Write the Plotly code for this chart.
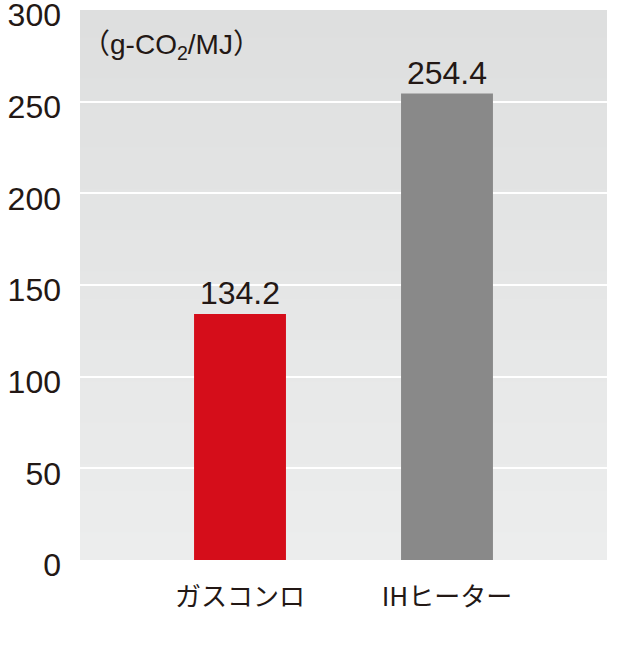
import plotly.graph_objects as go

categories = ["ガスコンロ", "IHヒーター"]
values = [134.2, 254.4]
value_labels = ["134.2", "254.4"]
bar_colors = ["#d50d1a", "#898989"]
y_ticks = [0, 50, 100, 150, 200, 250, 300]
unit_label = ('<span style="font-family:Noto Sans CJK JP">（</span>g-CO<sub>2</sub>/MJ'
              '<span style="font-family:Noto Sans CJK JP">）</span>')

x_pos = list(range(len(categories)))

fig = go.Figure()
fig.add_trace(go.Bar(
    x=x_pos, y=values, width=0.444,
    marker=dict(color=bar_colors, line=dict(width=0)),
    text=value_labels, textposition="outside", cliponaxis=False,
    textfont=dict(size=32, color="#231815", family="Liberation Sans, Arial, sans-serif"),
    hoverinfo="skip",
))

# vertical gradient background (overlapping rects, no seams)
n = 40
top = (222, 223, 223)
bot = (236, 237, 237)
shapes = []
for i in range(n):
    t = i / (n - 1)
    c = tuple(round(top[k] + (bot[k] - top[k]) * t) for k in range(3))
    shapes.append(dict(type="rect", xref="paper", yref="paper", x0=0, x1=1,
                       y0=0, y1=1 - i / n, layer="below",
                       fillcolor="rgb(%d,%d,%d)" % c, line=dict(width=0)))

fig.update_layout(
    width=635, height=646,
    margin=dict(l=80, r=28, t=10, b=86, autoexpand=False),
    paper_bgcolor="white", plot_bgcolor="rgba(0,0,0,0)",
    showlegend=False, shapes=shapes,
    font=dict(family="Liberation Sans, Arial, sans-serif", color="#231815"),
    xaxis=dict(range=[-0.773, 1.773], tickvals=x_pos, ticktext=categories,
               showgrid=False, zeroline=False, showline=False, ticks="",
               tickfont=dict(size=26, family="Noto Sans CJK JP", color="#231815"),
               ticklabelstandoff=19, automargin=False),
    yaxis=dict(range=[0, 300], tickvals=y_ticks, showgrid=True, gridcolor="white",
               gridwidth=2, zeroline=False, showline=False, ticks="",
               tickfont=dict(size=32, color="#231815"), ticklabelstandoff=18,
               ticklabeloverflow="allow", ticklabelshift=5, automargin=False),
    annotations=[dict(text=unit_label, xref="paper", yref="paper", x=0.0, y=0.94,
                      xanchor="left", yanchor="middle", showarrow=False,
                      font=dict(size=28, color="#231815"))],
)
fig.write_html("out.html")
